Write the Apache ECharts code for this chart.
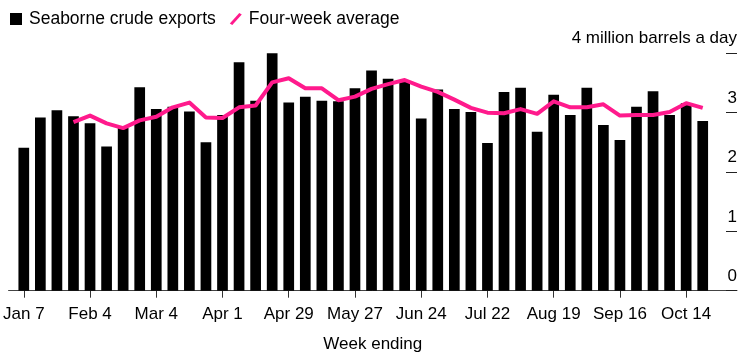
<!DOCTYPE html>
<html>
<head>
<meta charset="utf-8">
<script src="https://cdn.jsdelivr.net/npm/echarts@6/dist/echarts.min.js"></script>
<style>
html,body{margin:0;padding:0;background:#fff;}
#chart{width:747px;height:359px;}
</style>
</head>
<body>
<div id="chart"></div>
<script>
const weeks = ["Jan 7","Jan 14","Jan 21","Jan 28","Feb 4","Feb 11","Feb 18","Feb 25","Mar 4","Mar 11","Mar 18","Mar 25","Apr 1","Apr 8","Apr 15","Apr 22","Apr 29","May 6","May 13","May 20","May 27","Jun 3","Jun 10","Jun 17","Jun 24","Jul 1","Jul 8","Jul 15","Jul 22","Jul 29","Aug 5","Aug 12","Aug 19","Aug 26","Sep 2","Sep 9","Sep 16","Sep 23","Sep 30","Oct 7","Oct 14","Oct 21"];
const exportsData = [2.41,2.92,3.04,2.94,2.82,2.43,2.74,3.43,3.06,3.10,3.02,2.50,2.96,3.85,3.20,4.00,3.17,3.27,3.20,3.19,3.41,3.71,3.57,3.52,2.90,3.39,3.06,3.01,2.49,3.35,3.42,2.68,3.30,2.96,3.42,2.79,2.54,3.10,3.36,2.96,3.16,2.86];
const fourWeekAvg = [null,null,null,2.84,2.95,2.82,2.74,2.87,2.93,3.09,3.17,2.92,2.91,3.09,3.12,3.51,3.58,3.41,3.41,3.21,3.27,3.40,3.48,3.55,3.44,3.35,3.22,3.08,3.00,2.99,3.06,2.98,3.19,3.09,3.09,3.14,2.95,2.96,2.96,3.01,3.16,3.08];
const tickIdx = [0,4,8,12,16,20,24,28,32,36,40];
const yTicks = [0,1,2,3,4];

const FONT = 'Liberation Sans, Arial, Helvetica, sans-serif';
const chart = echarts.init(document.getElementById('chart'), null, {renderer:'canvas'});
chart.setOption({
  animation:false,
  backgroundColor:'#fff',
  textStyle:{fontFamily:FONT, color:'#000'},
  legend:{
    left:5, top:5, itemWidth:12, itemHeight:12, itemGap:14,
    textStyle:{fontSize:17.5, color:'#000', fontFamily:FONT, padding:[0,0,0,2]},
    data:[
      {name:'Seaborne crude exports', icon:'rect'},
      {name:'Four-week average', icon:'path://M0,10.5 L9.5,0 L12,1.5 L2.5,12 Z'}
    ]
  },
  grid:{left:8, right:10, top:53.3, bottom:68.3},
  xAxis:{
    type:'value', min:-0.92, max:43.07,
    axisLine:{show:true, onZero:false, lineStyle:{color:'#444', width:1}},
    axisTick:{show:true, customValues:tickIdx, length:7, lineStyle:{color:'#333'}},
    axisLabel:{customValues:tickIdx, formatter:(v)=>weeks[v], fontSize:17, color:'#000', margin:15, fontFamily:FONT},
    splitLine:{show:false},
    name:'Week ending', nameLocation:'middle', nameGap:45,
    nameTextStyle:{fontSize:17, color:'#000', fontFamily:FONT}
  },
  yAxis:{
    type:'value', min:0, max:4, interval:1, position:'right',
    axisLine:{show:false, onZero:false},
    axisTick:{show:true, inside:true, length:11, customValues:yTicks, lineStyle:{color:'#222'}},
    axisLabel:{inside:true, margin:0, fontSize:17, color:'#000', verticalAlign:'bottom', padding:[0,0,6,0],
      formatter:(v)=> v===4 ? '4 million barrels a day' : String(v), fontFamily:FONT},
    splitLine:{show:false}
  },
  series:[
    {name:'Seaborne crude exports', type:'bar', barWidth:10.7, itemStyle:{color:'#000'},
     data:exportsData.map((v,i)=>[i,v]), z:2},
    {name:'Four-week average', type:'line', showSymbol:false, symbol:'none',
     lineStyle:{color:'#ff1a8c', width:4, cap:'butt', join:'round'}, itemStyle:{color:'#ff1a8c'},
     data:fourWeekAvg.map((v,i)=>[i,v]), connectNulls:false, z:3}
  ]
});
</script>
</body>
</html>
